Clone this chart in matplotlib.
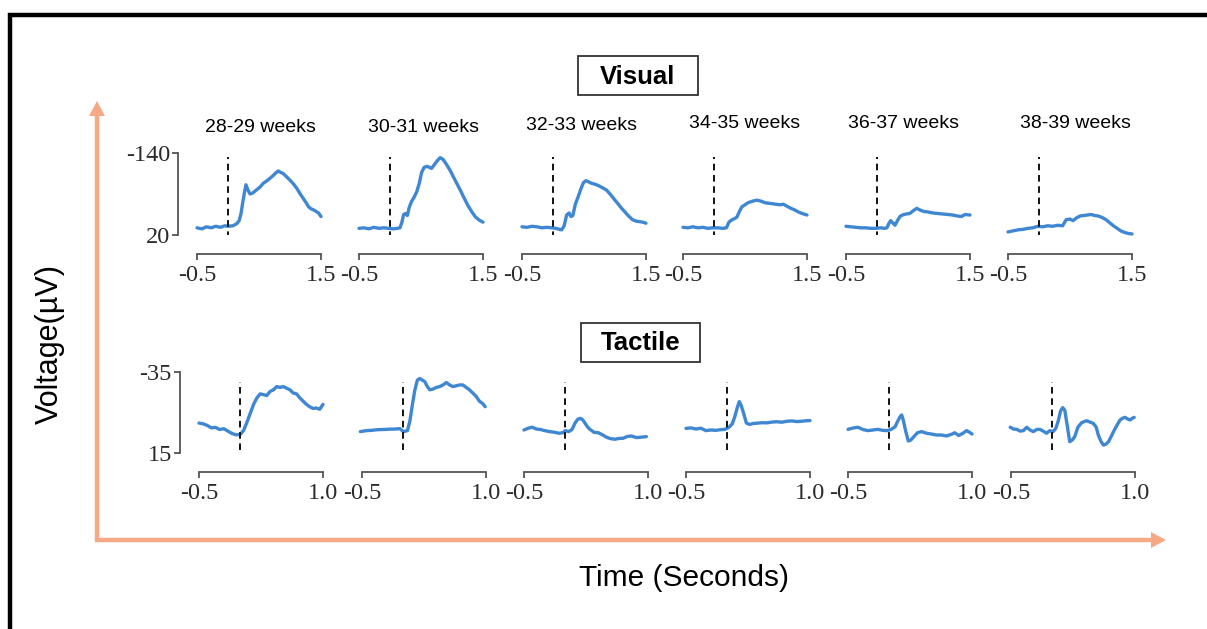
import matplotlib.pyplot as plt
from matplotlib.patches import FancyArrow, Rectangle

W, H = 1207, 629

weeks = ['28-29 weeks', '30-31 weeks', '32-33 weeks',
         '34-35 weeks', '36-37 weeks', '38-39 weeks']

# visual ERPs, time (s) and voltage (uV, negative up)
vis_t = [
    [-0.5, -0.42, -0.35, -0.27, -0.2, -0.12, -0.05, 0.0, 0.08, 0.14, 0.18, 0.21, 0.24, 0.27, 0.29, 0.32,
     0.355, 0.4, 0.46, 0.52, 0.57, 0.63, 0.68, 0.72, 0.76, 0.81, 0.85, 0.89, 0.95, 1.0, 1.06, 1.11, 1.16,
     1.21, 1.26, 1.3, 1.34, 1.38, 1.42, 1.46, 1.5],
    [-0.5, -0.42, -0.34, -0.26, -0.18, -0.1, -0.02, 0.05, 0.12, 0.16, 0.19, 0.22, 0.25, 0.28, 0.31, 0.35,
     0.39, 0.43, 0.47, 0.51, 0.55, 0.6, 0.67, 0.72, 0.77, 0.81, 0.86, 0.92, 0.97, 1.02, 1.08, 1.14, 1.2,
     1.26, 1.32, 1.38, 1.44, 1.5],
    [-0.5, -0.42, -0.34, -0.26, -0.18, -0.1, -0.02, 0.05, 0.1, 0.14, 0.18, 0.22, 0.26, 0.29, 0.32, 0.36,
     0.41, 0.45, 0.49, 0.53, 0.57, 0.62, 0.68, 0.74, 0.8, 0.86, 0.92, 0.98, 1.04, 1.1, 1.16, 1.22, 1.28,
     1.34, 1.4, 1.45, 1.5],
    [-0.5, -0.42, -0.34, -0.26, -0.18, -0.1, -0.02, 0.06, 0.14, 0.2, 0.24, 0.28, 0.33, 0.37, 0.41, 0.45,
     0.5, 0.55, 0.62, 0.69, 0.76, 0.82, 0.88, 0.94, 1.0, 1.06, 1.12, 1.18, 1.24, 1.3, 1.36, 1.42, 1.5],
    [-0.5, -0.42, -0.34, -0.26, -0.18, -0.1, -0.02, 0.06, 0.12, 0.16, 0.19, 0.22, 0.26, 0.29, 0.33, 0.37,
     0.41, 0.47, 0.53, 0.58, 0.64, 0.69, 0.75, 0.82, 0.9, 0.98, 1.06, 1.14, 1.22, 1.3, 1.36, 1.42, 1.5],
    [-0.5, -0.42, -0.34, -0.26, -0.18, -0.1, -0.02, 0.06, 0.14, 0.22, 0.3, 0.38, 0.44, 0.5, 0.55, 0.6,
     0.66, 0.72, 0.78, 0.84, 0.9, 0.96, 1.02, 1.08, 1.14, 1.2, 1.26, 1.32, 1.38, 1.44, 1.5],
]
vis_uv = [
    [6, 8, 4, 6, 3, 5, 2, 3, 2, -2, -8, -22, -45, -66, -78, -68, -60, -62, -68, -74, -81, -86, -91, -95,
     -100, -105, -102, -100, -93, -87, -79, -71, -61, -52, -43, -35, -31, -29, -26, -23, -16],
    [7, 6, 8, 5, 7, 6, 7, 8, 7, 6, -4, -20, -22, -18, -34, -46, -54, -64, -80, -102, -112, -114, -110,
     -118, -126, -131, -127, -116, -106, -94, -80, -66, -51, -37, -25, -15, -9, -5],
    [4, 5, 3, 4, 6, 5, 6, 7, 9, 10, 2, -19, -23, -16, -18, -40, -56, -70, -82, -86, -84, -81, -79, -76,
     -72, -68, -60, -51, -42, -33, -25, -17, -10, -7, -6, -5, -3],
    [5, 6, 4, 6, 5, 7, 6, 6, 7, 6, -5, -9, -12, -15, -26, -35, -39, -43, -46, -48, -46, -43, -42, -41,
     -40, -39, -40, -36, -32, -29, -25, -22, -19],
    [3, 4, 5, 6, 6, 7, 7, 6, 7, 6, -2, -8, -3, 1, -8, -16, -19, -21, -22, -27, -32, -29, -26, -25, -23,
     -22, -21, -20, -19, -17, -16, -20, -19],
    [14, 12, 10, 9, 7, 6, 3, 4, 2, 3, 1, 2, -10, -11, -8, -13, -17, -18, -19, -20, -18, -17, -14, -10,
     -4, 2, 7, 12, 15, 17, 18],
]

# tactile ERPs
tac_t = [
    [-0.5, -0.45, -0.4, -0.35, -0.3, -0.25, -0.2, -0.15, -0.1, -0.05, 0.0, 0.04, 0.08, 0.12, 0.16, 0.2,
     0.24, 0.28, 0.32, 0.36, 0.4, 0.44, 0.48, 0.52, 0.56, 0.6, 0.64, 0.68, 0.72, 0.76, 0.8, 0.84, 0.88,
     0.92, 0.96, 1.0],
    [-0.52, -0.45, -0.38, -0.31, -0.24, -0.17, -0.1, -0.04, 0.0, 0.05, 0.08, 0.11, 0.14, 0.17, 0.2, 0.23,
     0.26, 0.29, 0.32, 0.36, 0.4, 0.44, 0.48, 0.52, 0.56, 0.6, 0.64, 0.68, 0.72, 0.76, 0.8, 0.84, 0.88,
     0.92, 0.96, 0.99],
    [-0.5, -0.45, -0.4, -0.35, -0.3, -0.25, -0.19, -0.13, -0.08, -0.03, 0.0, 0.04, 0.08, 0.12, 0.15, 0.18,
     0.21, 0.24, 0.27, 0.3, 0.35, 0.4, 0.45, 0.5, 0.55, 0.6, 0.65, 0.7, 0.75, 0.8, 0.86, 0.92, 0.98],
    [-0.5, -0.44, -0.38, -0.32, -0.26, -0.2, -0.14, -0.08, -0.03, 0.02, 0.06, 0.09, 0.12, 0.145, 0.17, 0.2,
     0.23, 0.27, 0.31, 0.36, 0.42, 0.48, 0.54, 0.6, 0.66, 0.72, 0.78, 0.84, 0.9, 0.95, 1.0],
    [-0.5, -0.44, -0.38, -0.32, -0.26, -0.2, -0.14, -0.08, -0.03, 0.02, 0.07, 0.1, 0.13, 0.15, 0.17, 0.2,
     0.23, 0.26, 0.29, 0.34, 0.39, 0.45, 0.51, 0.57, 0.63, 0.69, 0.75, 0.79, 0.84, 0.89, 0.935, 0.97, 1.0],
    [-0.51, -0.47, -0.43, -0.39, -0.35, -0.31, -0.27, -0.23, -0.19, -0.15, -0.11, -0.07, -0.03, 0.01, 0.04,
     0.07, 0.1, 0.125, 0.15, 0.18, 0.21, 0.24, 0.27, 0.31, 0.355, 0.39, 0.415, 0.45, 0.495, 0.53, 0.556,
     0.59, 0.617, 0.65, 0.68, 0.71, 0.74, 0.78, 0.82, 0.85, 0.88, 0.91, 0.94, 0.97, 0.99],
]
tac_uv = [
    [-3.5, -3, -2, -0.5, -0.8, 0.5, 0, 1.5, 3, 3.8, 3.5, 1, -4, -9.5, -15, -19, -21.5, -21, -20.5, -23, -24,
     -26, -25.5, -26, -25, -24, -22, -21.5, -19, -17, -15, -13.5, -12.5, -12.8, -12, -15],
    [1.8, 1.2, 1.0, 0.6, 0.5, 0.3, 0.2, 0, 1.8, 1.2, -5, -15, -24, -30, -31, -30, -29, -26, -24, -24.5,
     -25.5, -26, -27, -28.5, -27, -26, -26.5, -27, -27, -25.5, -24, -22, -20, -17, -15.5, -13.6],
    [0.8, -0.3, -0.9, 0.2, 0.5, 1.2, 1.8, 2.2, 2.8, 2.5, 1.2, 1.8, 0.5, -3.7, -5.8, -6.4, -5.5, -3.3, -1,
     0.5, 2.3, 2.5, 3.8, 5.3, 6.2, 6.5, 6, 5.9, 4.8, 4.5, 5.5, 5.2, 4.9],
    [-0.2, -0.5, 0.2, -0.3, 1.2, 0.8, 1.0, 0.6, 0.4, -0.9, -3, -7.4, -13, -16.7, -14, -9, -3.5, -2.6, -3.2,
     -3.4, -3.7, -3.6, -4.1, -4.3, -4.0, -4.6, -4.8, -4.4, -4.6, -4.9, -5.0],
    [0.4, -0.4, -0.9, 0.5, 1.2, 0.8, 0.4, 1.0, 1.2, 0.5, -1.2, -4.5, -7.4, -8.5, -5, 2, 7.6, 7, 5.3, 2.5,
     1.8, 2.8, 3.3, 3.9, 3.9, 4.5, 3.5, 2.5, 4.2, 2.8, 1.2, 2.2, 3.3],
    [-0.9, 0.2, 0.4, 1.5, 1.2, -0.9, 0.8, 1.8, 0.5, 0.4, 1.5, 2.8, 1.2, 1.8, 0, -4.5, -11, -13, -11.5, -2,
     8, 7, 5, -1, -3.7, -4.5, -4.9, -4.2, -3.3, -1, 3.9, 8, 10.1, 9.5, 8, 5, 1.8, -2, -5.4, -6.5, -7, -6,
     -5.4, -6.5, -7],
]

BLUE = '#3f87d2'
ORANGE = '#f5a985'
SERIF = 'Liberation Serif'
SANS = 'Liberation Sans'


def px_rect(x0, y0, x1, y1):
    return [x0 / W, 1 - y1 / H, (x1 - x0) / W, (y1 - y0) / H]


def erp_panel(fig, rect, t, v, xlim, ylim, dash_span, show_y):
    ax = fig.add_axes(rect)
    ax.plot(t, v, color=BLUE, lw=2.4, solid_capstyle='round', solid_joinstyle='round', clip_on=False)
    ax.axvline(0, ymin=dash_span[0], ymax=dash_span[1], color='#111',
               lw=1.4, ls=(0, (3.4, 2.4)))
    ax.set_xlim(*xlim)
    ax.set_ylim(*ylim)
    ax.patch.set_alpha(0)
    for s in ['top', 'right']:
        ax.spines[s].set_visible(False)
    ax.spines['bottom'].set_position(('outward', 13.5))
    ax.spines['bottom'].set_color('#555')
    ax.spines['bottom'].set_linewidth(1.3)
    ax.set_xticks(list(xlim))
    ax.set_xticklabels([f'{x:.1f}' for x in xlim])
    ax.tick_params(axis='x', direction='out', length=4, width=1.3, color='#555',
                   labelsize=17.5, labelcolor='#2a2a2a', pad=4)
    if show_y:
        ax.spines['left'].set_position(('outward', 13.5))
        ax.spines['left'].set_color('#555')
        ax.spines['left'].set_linewidth(1.3)
        ax.set_yticks(list(ylim))
        ax.set_yticklabels([f'{y:g}' for y in ylim])
        ax.tick_params(axis='y', direction='out', length=4, width=1.3, color='#555',
                       labelsize=17.5, labelcolor='#2a2a2a', pad=2)
    else:
        ax.spines['left'].set_visible(False)
        ax.set_yticks([])
    for lab in ax.get_xticklabels() + ax.get_yticklabels():
        lab.set_family(SERIF)
    return ax


fig = plt.figure(figsize=(W / 100, H / 100), dpi=100)
fig.patch.set_facecolor('white')

# pixel-space overlay for the frame, arrows and boxed headings
bg = fig.add_axes([0, 0, 1, 1], zorder=-1)
bg.set_xlim(0, W)
bg.set_ylim(H, 0)
bg.axis('off')

bg.plot([10, 10, W + 5], [H + 5, 15, 15], color='black', lw=3.2, solid_joinstyle='miter')

bg.add_patch(FancyArrow(97, 541, 0, -440, width=4.5, head_width=16, head_length=15,
                        length_includes_head=True, color=ORANGE, lw=0))
bg.add_patch(FancyArrow(95, 540, 1071, 0, width=4.5, head_width=16, head_length=15,
                        length_includes_head=True, color=ORANGE, lw=0))

bg.text(50, 344, 'Voltage(µV)', rotation=90, ha='center', va='center',
        fontsize=22, family=SANS, color='black')
bg.text(684, 578, 'Time (Seconds)', ha='center', va='center',
        fontsize=21.5, family=SANS, color='black')

for (x0, y0, x1, y1), label in [((578, 56, 698, 95), 'Visual'), ((581, 323, 700, 362), 'Tactile')]:
    bg.add_patch(Rectangle((x0, y0), x1 - x0, y1 - y0, fill=False, ec='#333', lw=1.3))
    bg.text((x0 + x1) / 2, (y0 + y1) / 2 + 1, label, ha='center', va='center',
            fontsize=18.5, fontweight='bold', family=SANS, color='black')

vis_left = [197, 359, 522, 683, 846, 1008]
tac_left = [199, 362, 524, 686, 848, 1011]
title_x = [260, 423, 581, 745, 903, 1075]
title_y = [128, 128, 126, 123, 123, 123]

for i in range(6):
    erp_panel(fig, px_rect(vis_left[i], 153, vis_left[i] + 124, 235), vis_t[i], vis_uv[i],
              (-0.5, 1.5), (20, -140), (-0.04, 0.95), i == 0)
    erp_panel(fig, px_rect(tac_left[i], 372, tac_left[i] + 124, 453), tac_t[i], tac_uv[i],
              (-0.5, 1.0), (15, -35), (0.04, 0.88), i == 0)
    bg.text(title_x[i], title_y[i], weeks[i], ha='center', va='center',
            fontsize=14, family=SANS, color='black')

fig.savefig('out.png', dpi=100)
